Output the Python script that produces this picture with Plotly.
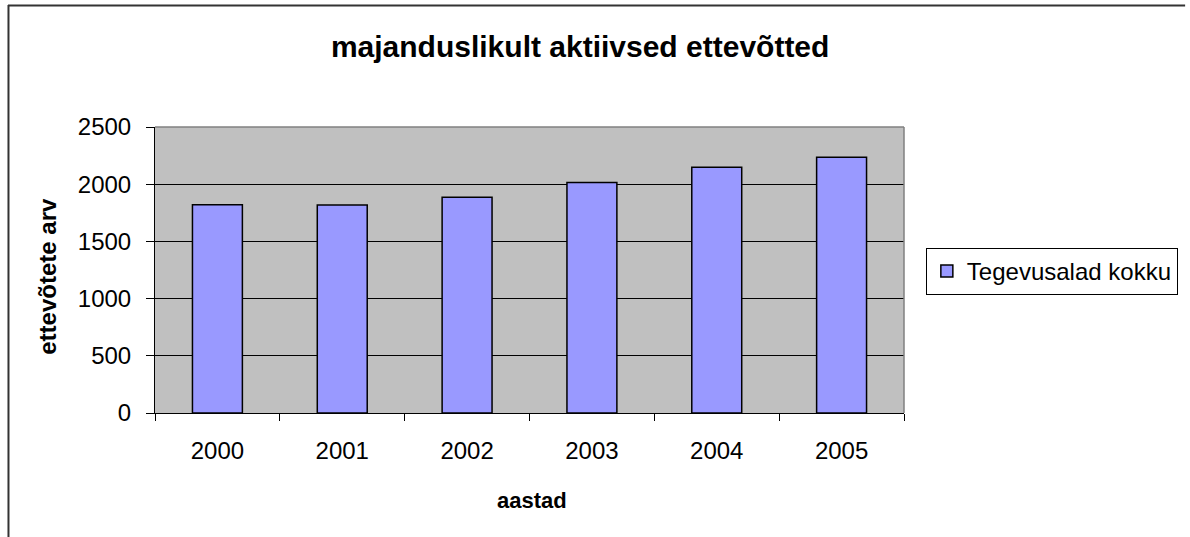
import plotly.graph_objects as go

years = ["2000", "2001", "2002", "2003", "2004", "2005"]
values = [1820, 1818, 1886, 2014, 2148, 2235]
series_name = "Tegevusalad kokku"
y_ticks = [0, 500, 1000, 1500, 2000, 2500]

W, H = 1190, 537
L, R, T, B = 155, 909, 127, 413
pw, ph = R - L, B - T

def px(x):
    return (x - L) / pw

def py(y):
    return (B - y) / ph

fig = go.Figure()
fig.add_trace(go.Bar(
    x=years, y=values, name=series_name,
    marker=dict(color="#9999FF", line=dict(color="black", width=1.5)),
    showlegend=True,
))

font = "Liberation Sans, Arial, sans-serif"

fig.update_layout(
    width=W, height=H,
    margin=dict(l=L, r=W - R, t=T, b=H - B, pad=0),
    paper_bgcolor="white", plot_bgcolor="#C0C0C0",
    bargap=0.6,
    font=dict(family=font, size=24, color="black"),
    title=dict(text="<b>majanduslikult aktiivsed ettevõtted</b>",
               x=px(583), xref="paper", xanchor="center",
               y=1 - 46 / H, yref="container", yanchor="middle",
               font=dict(family=font, size=30, color="black")),
    showlegend=True,
    legend=dict(x=px(931), y=py(248), xanchor="left", yanchor="top",
                bordercolor="black", borderwidth=1, bgcolor="white",
                font=dict(family=font, size=24, color="black"),
                itemwidth=30, tracegroupgap=0),
    xaxis=dict(type="category", showgrid=False, showline=True, linecolor="black",
               linewidth=1, ticks="outside", tickson="boundaries", ticklen=7,
               tickcolor="black", ticklabelstandoff=16,
               tickfont=dict(family=font, size=24, color="black"), fixedrange=True),
    yaxis=dict(range=[0, 2500], tickvals=y_ticks, showgrid=True, gridcolor="black",
               gridwidth=1, zeroline=False, showline=True, linecolor="black",
               linewidth=1, ticks="outside", ticklen=8, tickcolor="black",
               ticklabelstandoff=10,
               tickfont=dict(family=font, size=24, color="black"), fixedrange=True),
    annotations=[
        dict(text="<b>aastad</b>", x=px(535), y=py(500), xref="paper", yref="paper",
             showarrow=False, xanchor="center", yanchor="middle",
             font=dict(family=font, size=22, color="black")),
        dict(text="<b>ettevõtete arv</b>", x=px(46), y=py(276), xref="paper", yref="paper",
             showarrow=False, xanchor="center", yanchor="middle", textangle=-90,
             font=dict(family=font, size=24, color="black")),
    ],
    shapes=[
        dict(type="line", xref="paper", yref="paper", x0=0, x1=1, y0=1, y1=1,
             line=dict(color="#808080", width=1.5)),
        dict(type="line", xref="paper", yref="paper", x0=1, x1=1, y0=0, y1=1,
             line=dict(color="#808080", width=1.5)),
        dict(type="line", xref="paper", yref="paper", x0=px(7), x1=px(1192),
             y0=py(5.5), y1=py(5.5), line=dict(color="#333333", width=2)),
        dict(type="line", xref="paper", yref="paper", x0=px(7.5), x1=px(7.5),
             y0=py(5), y1=py(545), line=dict(color="#333333", width=2)),
    ],
)

fig.write_html("out.html", config={"displayModeBar": False},
               post_script="document.body.style.margin='0px';document.body.style.overflow='hidden';")
